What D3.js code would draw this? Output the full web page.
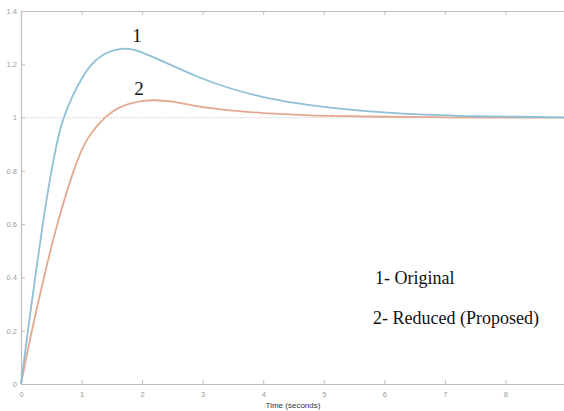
<!DOCTYPE html>
<html><head><meta charset="utf-8">
<script src="https://cdn.jsdelivr.net/npm/d3@7"></script>
<style>body{margin:0;background:#fff;}svg{display:block;}</style>
</head><body>
<svg id="c" width="564" height="411"></svg>
<script>
const xTicks = [0,1,2,3,4,5,6,7,8,9];
const yTicks = [0,0.2,0.4,0.6,0.8,1,1.2,1.4];
const yTickLabels = ["0","0.2","0.4","0.6","0.8","1","1.2","1.4"];
const tOriginal = [0,0.12,0.24,0.36,0.48,0.59,0.7,0.85,1.0,1.19,1.44,1.66,1.9,2.35,2.9,3.45,4.0,4.55,5.1,5.7,6.3,6.9,7.5,8.2,9];
const vOriginal = [0,0.21,0.41,0.6,0.77,0.9,0.995,1.08,1.145,1.205,1.245,1.258,1.252,1.21,1.155,1.11,1.077,1.054,1.037,1.024,1.015,1.009,1.005,1.003,1.001];
const tReduced = [0,0.18,0.39,0.6,0.87,1.1,1.39,1.7,2.0,2.2,2.5,2.9,3.5,4.0,4.6,5.1,6,7,8,9];
const vReduced = [0,0.2,0.41,0.6,0.8,0.92,1.0,1.045,1.062,1.065,1.06,1.043,1.026,1.017,1.01,1.006,1.003,1.001,1.0,1.0];
const legendLines = ["1- Original","2- Reduced (Proposed)"];
const curveLabels = ["1","2"];
const xLabel = "Time (seconds)";

const svg = d3.select("#c");
const x = d3.scaleLinear().domain([0,9]).range([21,566]);
const y = d3.scaleLinear().domain([0,1.4]).range([384,11]);
const axisCol = "#bdbdbd", labCol = "#9a9a9a";

svg.append("line").attr("x1",x(0)).attr("x2",x(9)).attr("y1",y(1)).attr("y2",y(1))
  .attr("stroke","#d6d6d6").attr("stroke-width",1.2).attr("stroke-dasharray","1.5,1.5");

const gx = svg.append("g").attr("transform",`translate(0,${y(0)})`)
  .call(d3.axisBottom(x).tickValues(xTicks).tickFormat(d3.format("d")).tickSizeInner(-4).tickSizeOuter(0).tickPadding(8));
const gxt = svg.append("g").attr("transform",`translate(0,${y(1.4)})`)
  .call(d3.axisTop(x).tickValues(xTicks).tickFormat("").tickSizeInner(-4).tickSizeOuter(0));
const gy = svg.append("g").attr("transform",`translate(${x(0)},0)`)
  .call(d3.axisLeft(y).tickValues(yTicks).tickFormat((d,i)=>yTickLabels[i]).tickSizeInner(-4).tickSizeOuter(0).tickPadding(4));
[gx,gxt,gy].forEach(g=>{
  g.select(".domain").attr("stroke",axisCol).attr("stroke-width",1.2);
  g.selectAll(".tick line").attr("stroke",axisCol).attr("stroke-width",1);
  g.selectAll("text").attr("fill",labCol).style("font-family","Liberation Sans, Arial, sans-serif").style("font-size","7.5px");
});

svg.append("text").attr("x",293).attr("y",408).attr("text-anchor","middle")
  .style("font-family","Liberation Sans, Arial, sans-serif").style("font-size","8px").attr("fill","#333").text(xLabel);

const line = d3.line().x(d=>x(d[0])).y(d=>y(d[1])).curve(d3.curveNatural);
svg.append("path").datum(tReduced.map((t,i)=>[t,vReduced[i]])).attr("d",line)
  .attr("fill","none").attr("stroke","#e3a990").attr("stroke-width",1.8);
svg.append("path").datum(tOriginal.map((t,i)=>[t,vOriginal[i]])).attr("d",line)
  .attr("fill","none").attr("stroke","#90c0d5").attr("stroke-width",1.8);

const serif = "Liberation Serif, Times New Roman, serif";
svg.append("text").attr("x",137).attr("y",42).attr("text-anchor","middle")
  .style("font-family",serif).style("font-size","19px").attr("fill","#111").text(curveLabels[0]);
svg.append("text").attr("x",139).attr("y",95).attr("text-anchor","middle")
  .style("font-family",serif).style("font-size","19px").attr("fill","#111").text(curveLabels[1]);
svg.append("text").attr("x",375).attr("y",284)
  .style("font-family",serif).style("font-size","18px").attr("fill","#111").text(legendLines[0]);
svg.append("text").attr("x",373).attr("y",324)
  .style("font-family",serif).style("font-size","18px").attr("fill","#111").text(legendLines[1]);
</script>
</body></html>
